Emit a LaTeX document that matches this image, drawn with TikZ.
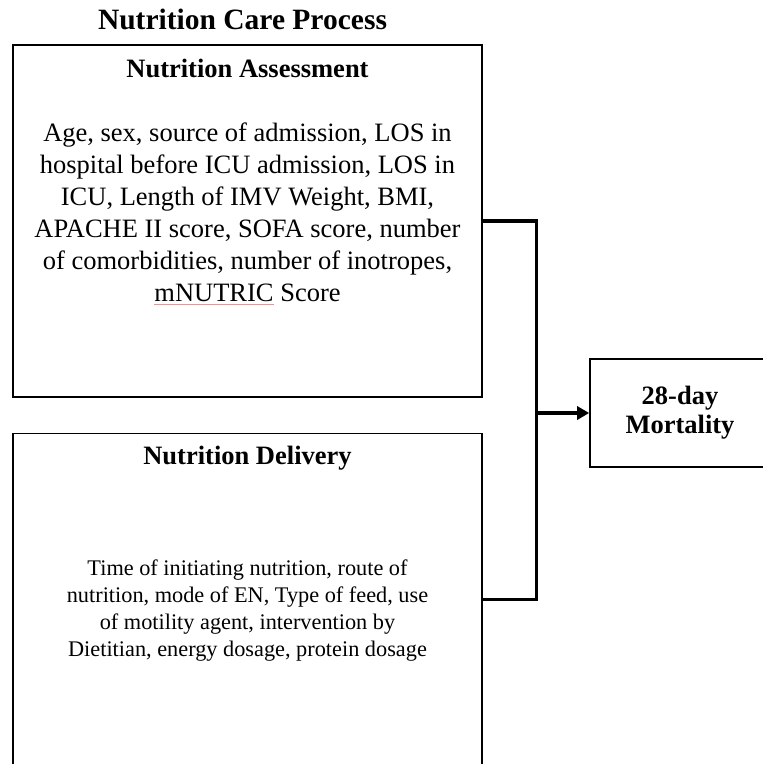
\documentclass[tikz,border=0pt]{standalone}
\usepackage{fontspec}
\setmainfont{Liberation Serif}
\usepackage{xcolor}
\usepackage{tikz}
\usetikzlibrary{positioning,arrows.meta,calc}
\newlength{\markWidth}
\newcommand{\spellMark}[1]{\settowidth{\markWidth}{#1}\rlap{\textcolor{red!45}{\rule[-4pt]{\markWidth}{0.8pt}}}#1}
\tikzset{
  groupBox/.style={
    rectangle,
    draw=black,
    line width=1.6pt,
    minimum width=469pt,
    inner sep=0pt
  },
  titleText/.style={
    font=\fontsize{29.5}{34}\selectfont\bfseries,
    inner sep=0pt
  },
  headText/.style={
    font=\fontsize{26.5}{32}\selectfont\bfseries,
    inner sep=0pt
  },
  bodyText/.style={
    align=center,
    inner sep=0pt
  },
  outcomeBox/.style={
    rectangle,
    draw=black,
    line width=1.6pt,
    minimum width=180pt,
    minimum height=108pt,
    align=center,
    font=\fontsize{26.5}{29}\selectfont\bfseries
  },
  linkLine/.style={
    line width=3.2pt
  },
  arrowLine/.style={
    -{Triangle[length=12pt,width=13pt]},
    line width=3.2pt
  }
}
\begin{document}
\begin{tikzpicture}[
            node distance=35pt
        ]
        \useasboundingbox (0,0) rectangle (763pt,-764pt);

        \node[groupBox, minimum height=352pt] (assess) at (247.5pt,-221pt) {};
        \node[groupBox, minimum height=331pt, below=35pt of assess] (deliver) {};
        \node[titleText, above=14pt of assess, xshift=-5pt] (title) {Nutrition Care Process};

        \node[headText, below=15pt of assess.north] (assessHead) {Nutrition Assessment};
        \node[bodyText, below=44pt of assessHead, font=\fontsize{26.5}{32}\selectfont] (assessBody)
            {Age, sex, source of admission, LOS in\\
             hospital before ICU admission, LOS in\\
             ICU, Length of IMV Weight, BMI,\\
             APACHE II score, SOFA score, number\\
             of comorbidities, number of inotropes,\\
             \spellMark{mNUTRIC} Score};

        \node[headText, below=13pt of deliver.north] (deliverHead) {Nutrition Delivery};
        \node[bodyText, below=89pt of deliverHead, font=\fontsize{22.3}{27}\selectfont] (deliverBody)
            {Time of initiating nutrition, route of\\
             nutrition, mode of EN, Type of feed, use\\
             of motility agent, intervention by\\
             Dietitian, energy dosage, protein dosage};

        \node[outcomeBox] (mortality) at (680pt,-413pt) {28-day\\Mortality};
        \coordinate[left=53pt of mortality.west] (junction);

        \draw[linkLine] (assess.east) -| (junction) |- (deliver.east);
        \draw[arrowLine] (junction) -- (mortality.west);

    \end{tikzpicture}
\end{document}
